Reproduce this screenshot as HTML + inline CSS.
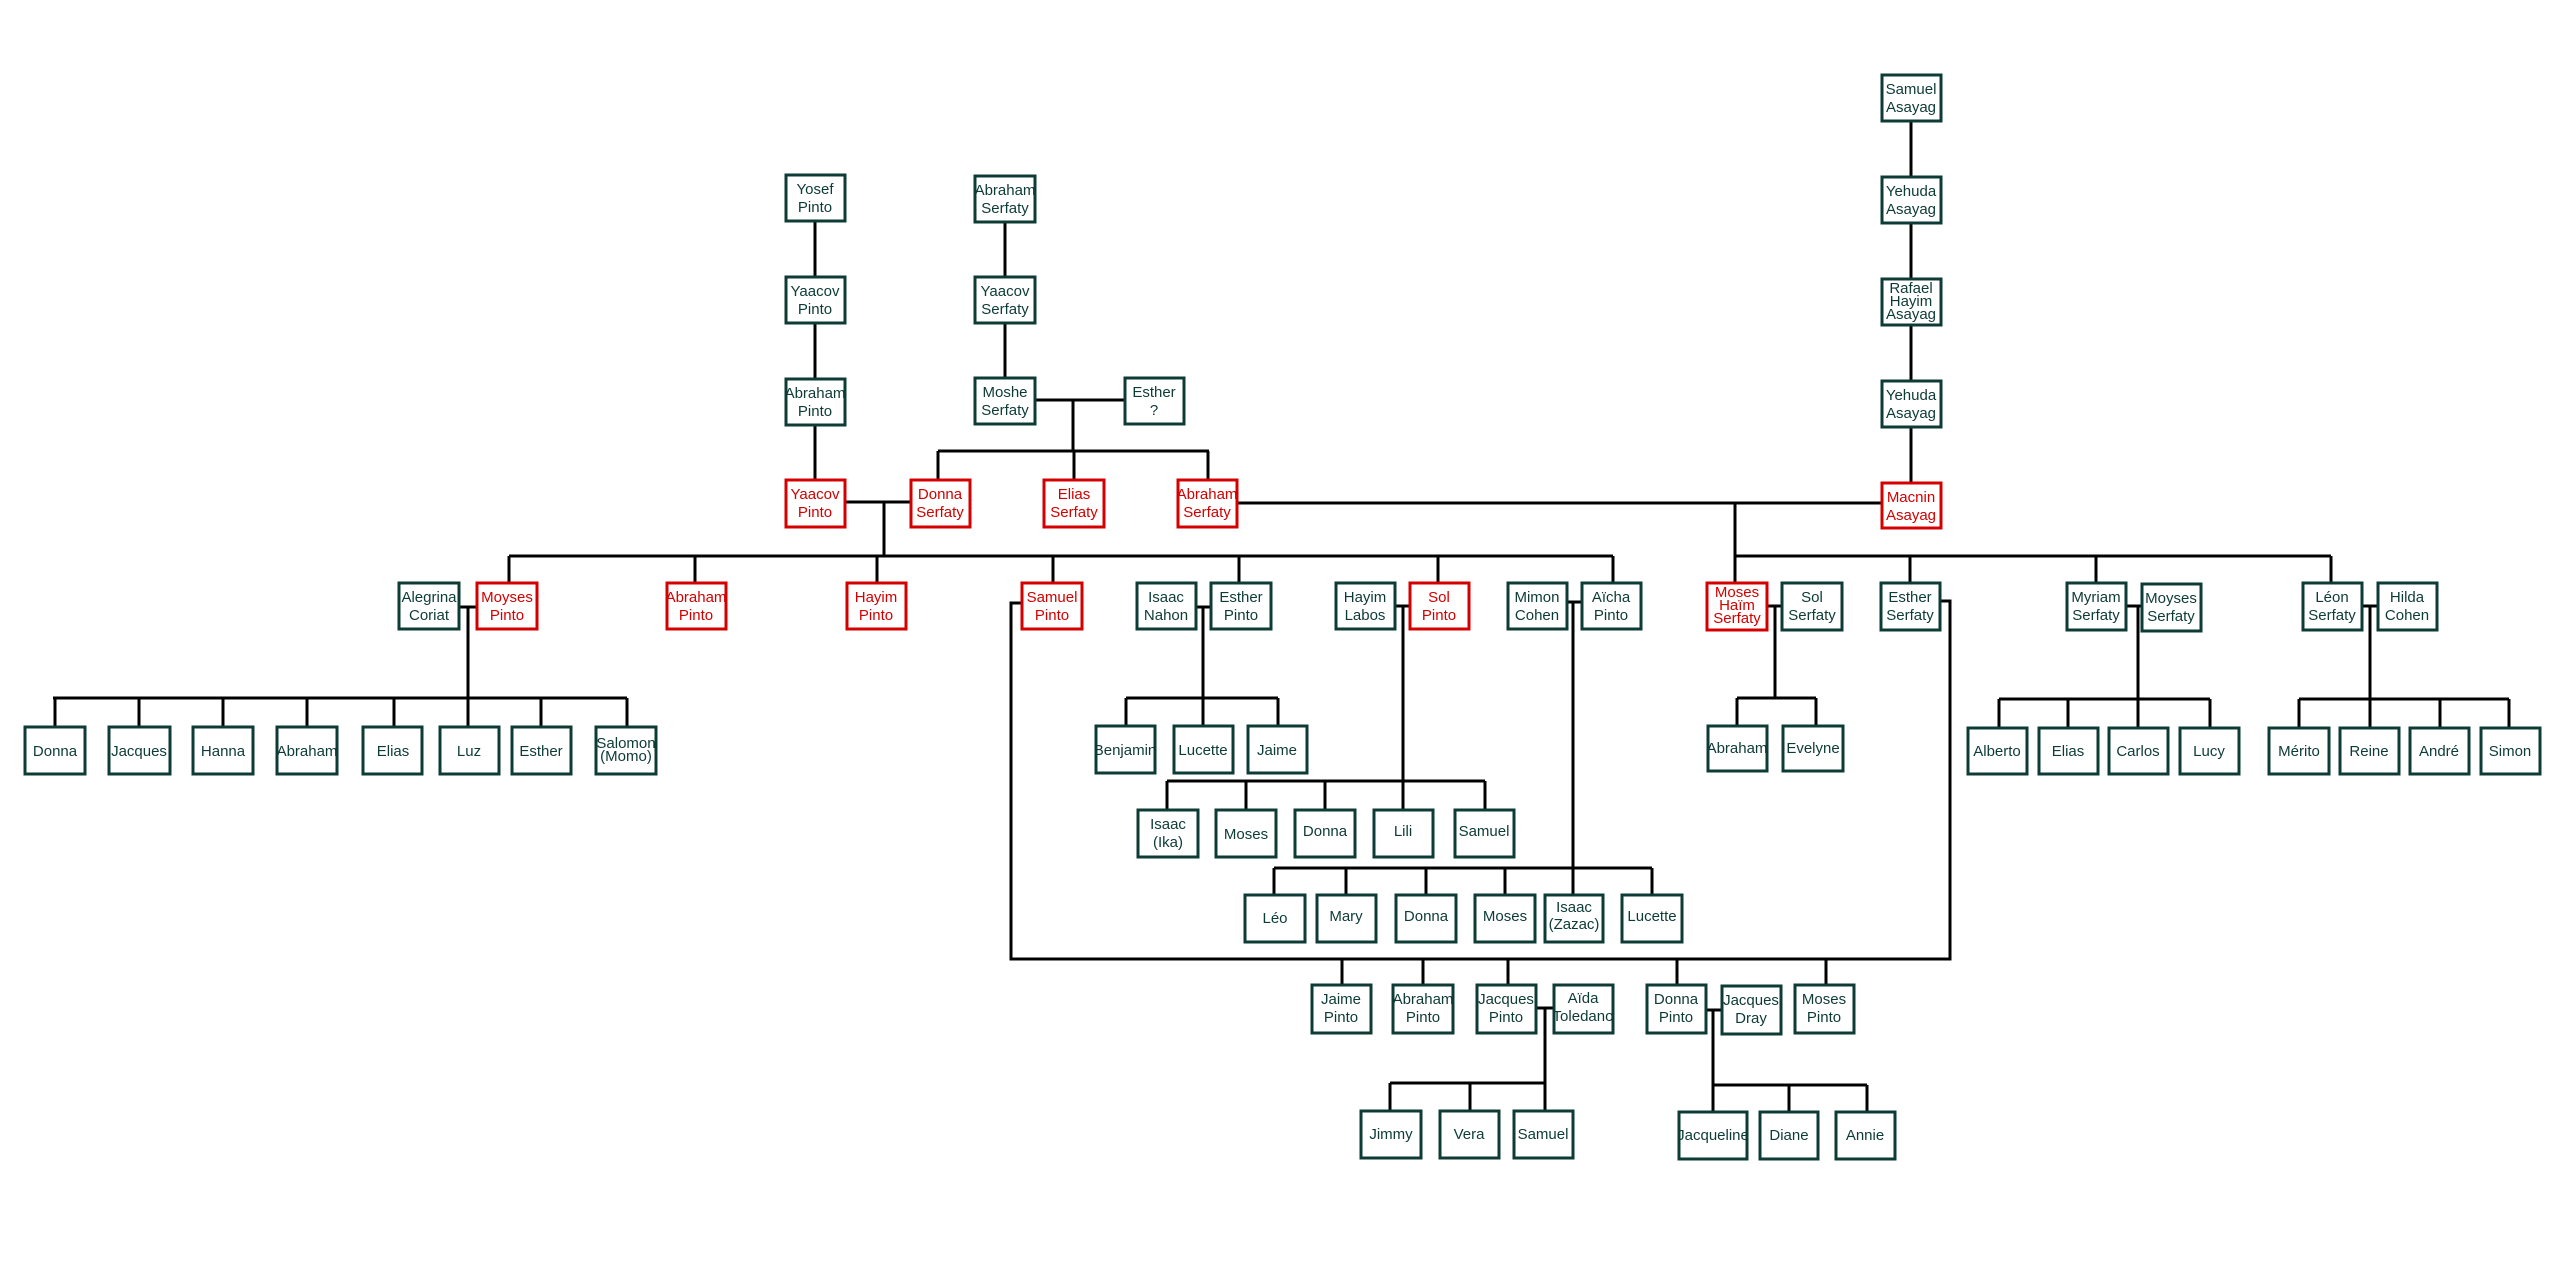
<!DOCTYPE html>
<html><head><meta charset="utf-8"><style>
html,body{margin:0;padding:0;background:#fff;}
svg{display:block;}
rect{fill:#fff;stroke:#0d3b36;stroke-width:3;}
.r rect{stroke:#d40000;}
text{fill:#0d3b36;font-family:"Liberation Sans",sans-serif;font-size:15px;text-anchor:middle;}
.r text{fill:#d40000;}
line,polyline{stroke:#000;stroke-width:3;fill:none;}
</style></head><body>
<svg width="2560" height="1280" viewBox="0 0 2560 1280" xmlns="http://www.w3.org/2000/svg">
<!-- connectors -->
<line x1="815" y1="221" x2="815" y2="480"/>
<line x1="1005" y1="222" x2="1005" y2="378"/>
<line x1="1911" y1="121" x2="1911" y2="483"/>
<line x1="1035" y1="400" x2="1125" y2="400"/>
<line x1="1073" y1="400" x2="1073" y2="451"/>
<line x1="938" y1="451" x2="1209" y2="451"/>
<line x1="938" y1="451" x2="938" y2="480"/>
<line x1="1074" y1="451" x2="1074" y2="480"/>
<line x1="1208" y1="451" x2="1208" y2="480"/>
<line x1="845" y1="502" x2="911" y2="502"/>
<line x1="884" y1="502" x2="884" y2="556"/>
<line x1="1237" y1="503" x2="1882" y2="503"/>
<line x1="509" y1="556" x2="1613" y2="556"/>
<line x1="509" y1="556" x2="509" y2="583"/>
<line x1="695" y1="556" x2="695" y2="583"/>
<line x1="877" y1="556" x2="877" y2="583"/>
<line x1="1053" y1="556" x2="1053" y2="583"/>
<line x1="1239" y1="556" x2="1239" y2="583"/>
<line x1="1438" y1="556" x2="1438" y2="583"/>
<line x1="1613" y1="556" x2="1613" y2="583"/>
<line x1="1735" y1="503" x2="1735" y2="583"/>
<line x1="1735" y1="556" x2="2331" y2="556"/>
<line x1="1910" y1="556" x2="1910" y2="583"/>
<line x1="2096" y1="556" x2="2096" y2="583"/>
<line x1="2331" y1="556" x2="2331" y2="583"/>
<!-- Alegrina/Moyses -->
<line x1="459" y1="607" x2="477" y2="607"/>
<line x1="468" y1="607" x2="468" y2="698"/>
<line x1="53" y1="698" x2="627" y2="698"/>
<line x1="55" y1="698" x2="55" y2="727"/>
<line x1="139" y1="698" x2="139" y2="727"/>
<line x1="223" y1="698" x2="223" y2="727"/>
<line x1="307" y1="698" x2="307" y2="727"/>
<line x1="394" y1="698" x2="394" y2="727"/>
<line x1="468" y1="698" x2="468" y2="727"/>
<line x1="541" y1="698" x2="541" y2="727"/>
<line x1="627" y1="698" x2="627" y2="727"/>
<!-- Isaac/Esther -->
<line x1="1196" y1="607" x2="1211" y2="607"/>
<line x1="1203" y1="607" x2="1203" y2="726"/>
<line x1="1126" y1="698" x2="1278" y2="698"/>
<line x1="1126" y1="698" x2="1126" y2="726"/>
<line x1="1278" y1="698" x2="1278" y2="726"/>
<!-- Hayim/Sol -->
<line x1="1395" y1="606" x2="1410" y2="606"/>
<line x1="1403" y1="606" x2="1403" y2="810"/>
<line x1="1167" y1="781" x2="1485" y2="781"/>
<line x1="1167" y1="781" x2="1167" y2="810"/>
<line x1="1246" y1="781" x2="1246" y2="810"/>
<line x1="1325" y1="781" x2="1325" y2="810"/>
<line x1="1485" y1="781" x2="1485" y2="810"/>
<!-- Mimon/Aicha -->
<line x1="1567" y1="602" x2="1582" y2="602"/>
<line x1="1573" y1="602" x2="1573" y2="895"/>
<line x1="1274" y1="868" x2="1652" y2="868"/>
<line x1="1274" y1="868" x2="1274" y2="895"/>
<line x1="1346" y1="868" x2="1346" y2="895"/>
<line x1="1426" y1="868" x2="1426" y2="895"/>
<line x1="1505" y1="868" x2="1505" y2="895"/>
<line x1="1652" y1="868" x2="1652" y2="895"/>
<!-- Samuel Pinto / Esther Serfaty -->
<polyline points="1022,603 1011,603 1011,959 1950,959 1950,601 1940,601"/>
<line x1="1342" y1="959" x2="1342" y2="985"/>
<line x1="1423" y1="959" x2="1423" y2="985"/>
<line x1="1508" y1="959" x2="1508" y2="985"/>
<line x1="1677" y1="959" x2="1677" y2="985"/>
<line x1="1826" y1="959" x2="1826" y2="985"/>
<line x1="1536" y1="1008" x2="1554" y2="1008"/>
<line x1="1545" y1="1008" x2="1545" y2="1111"/>
<line x1="1390" y1="1083" x2="1545" y2="1083"/>
<line x1="1390" y1="1083" x2="1390" y2="1111"/>
<line x1="1470" y1="1083" x2="1470" y2="1111"/>
<line x1="1706" y1="1010" x2="1722" y2="1010"/>
<line x1="1713" y1="1010" x2="1713" y2="1112"/>
<line x1="1713" y1="1085" x2="1867" y2="1085"/>
<line x1="1789" y1="1085" x2="1789" y2="1112"/>
<line x1="1867" y1="1085" x2="1867" y2="1112"/>
<!-- Moses/Sol Serfaty -->
<line x1="1767" y1="606" x2="1782" y2="606"/>
<line x1="1775" y1="606" x2="1775" y2="698"/>
<line x1="1737" y1="698" x2="1816" y2="698"/>
<line x1="1737" y1="698" x2="1737" y2="726"/>
<line x1="1816" y1="698" x2="1816" y2="726"/>
<!-- Myriam/Moyses -->
<line x1="2126" y1="606" x2="2142" y2="606"/>
<line x1="2138" y1="606" x2="2138" y2="728"/>
<line x1="1999" y1="699" x2="2210" y2="699"/>
<line x1="1999" y1="699" x2="1999" y2="728"/>
<line x1="2068" y1="699" x2="2068" y2="728"/>
<line x1="2210" y1="699" x2="2210" y2="728"/>
<!-- Leon/Hilda -->
<line x1="2362" y1="606" x2="2378" y2="606"/>
<line x1="2370" y1="606" x2="2370" y2="728"/>
<line x1="2299" y1="699" x2="2509" y2="699"/>
<line x1="2299" y1="699" x2="2299" y2="728"/>
<line x1="2440" y1="699" x2="2440" y2="728"/>
<line x1="2509" y1="699" x2="2509" y2="728"/>

<!-- boxes: Pinto ancestors -->
<g><rect x="786" y="175" width="59" height="46"/><text x="815" y="194">Yosef<tspan x="815" dy="18">Pinto</tspan></text></g>
<g><rect x="786" y="277" width="59" height="46"/><text x="815" y="296">Yaacov<tspan x="815" dy="18">Pinto</tspan></text></g>
<g><rect x="786" y="379" width="59" height="46"/><text x="815" y="398">Abraham<tspan x="815" dy="18">Pinto</tspan></text></g>
<g class="r"><rect x="786" y="480" width="59" height="47"/><text x="815" y="499">Yaacov<tspan x="815" dy="18">Pinto</tspan></text></g>
<!-- Serfaty -->
<g><rect x="975" y="176" width="60" height="46"/><text x="1005" y="195">Abraham<tspan x="1005" dy="18">Serfaty</tspan></text></g>
<g><rect x="975" y="277" width="60" height="46"/><text x="1005" y="296">Yaacov<tspan x="1005" dy="18">Serfaty</tspan></text></g>
<g><rect x="975" y="378" width="60" height="46"/><text x="1005" y="397">Moshe<tspan x="1005" dy="18">Serfaty</tspan></text></g>
<g><rect x="1125" y="378" width="59" height="46"/><text x="1154" y="397">Esther<tspan x="1154" dy="18">?</tspan></text></g>
<g class="r"><rect x="911" y="480" width="59" height="47"/><text x="940" y="499">Donna<tspan x="940" dy="18">Serfaty</tspan></text></g>
<g class="r"><rect x="1044" y="480" width="60" height="47"/><text x="1074" y="499">Elias<tspan x="1074" dy="18">Serfaty</tspan></text></g>
<g class="r"><rect x="1178" y="480" width="59" height="47"/><text x="1207" y="499">Abraham<tspan x="1207" dy="18">Serfaty</tspan></text></g>
<!-- Asayag -->
<g><rect x="1882" y="75" width="59" height="46"/><text x="1911" y="94">Samuel<tspan x="1911" dy="18">Asayag</tspan></text></g>
<g><rect x="1882" y="177" width="59" height="46"/><text x="1911" y="196">Yehuda<tspan x="1911" dy="18">Asayag</tspan></text></g>
<g><rect x="1882" y="279" width="59" height="46"/><text x="1911" y="293">Rafael<tspan x="1911" dy="13">Hayim</tspan><tspan x="1911" dy="13">Asayag</tspan></text></g>
<g><rect x="1882" y="381" width="59" height="46"/><text x="1911" y="400">Yehuda<tspan x="1911" dy="18">Asayag</tspan></text></g>
<g class="r"><rect x="1882" y="483" width="59" height="45"/><text x="1911" y="502">Macnin<tspan x="1911" dy="18">Asayag</tspan></text></g>
<!-- gen2 -->
<g><rect x="399" y="583" width="60" height="46"/><text x="429" y="602">Alegrina<tspan x="429" dy="18">Coriat</tspan></text></g>
<g class="r"><rect x="477" y="583" width="60" height="46"/><text x="507" y="602">Moyses<tspan x="507" dy="18">Pinto</tspan></text></g>
<g class="r"><rect x="667" y="583" width="59" height="46"/><text x="696" y="602">Abraham<tspan x="696" dy="18">Pinto</tspan></text></g>
<g class="r"><rect x="847" y="583" width="59" height="46"/><text x="876" y="602">Hayim<tspan x="876" dy="18">Pinto</tspan></text></g>
<g class="r"><rect x="1022" y="583" width="60" height="46"/><text x="1052" y="602">Samuel<tspan x="1052" dy="18">Pinto</tspan></text></g>
<g><rect x="1137" y="583" width="59" height="46"/><text x="1166" y="602">Isaac<tspan x="1166" dy="18">Nahon</tspan></text></g>
<g><rect x="1211" y="583" width="60" height="46"/><text x="1241" y="602">Esther<tspan x="1241" dy="18">Pinto</tspan></text></g>
<g><rect x="1336" y="583" width="59" height="46"/><text x="1365" y="602">Hayim<tspan x="1365" dy="18">Labos</tspan></text></g>
<g class="r"><rect x="1410" y="583" width="59" height="46"/><text x="1439" y="602">Sol<tspan x="1439" dy="18">Pinto</tspan></text></g>
<g><rect x="1508" y="583" width="59" height="46"/><text x="1537" y="602">Mimon<tspan x="1537" dy="18">Cohen</tspan></text></g>
<g><rect x="1582" y="583" width="59" height="46"/><text x="1611" y="602">Aïcha<tspan x="1611" dy="18">Pinto</tspan></text></g>
<g class="r"><rect x="1707" y="583" width="60" height="47"/><text x="1737" y="597">Moses<tspan x="1737" dy="13">Haïm</tspan><tspan x="1737" dy="13">Serfaty</tspan></text></g>
<g><rect x="1782" y="583" width="60" height="47"/><text x="1812" y="602">Sol<tspan x="1812" dy="18">Serfaty</tspan></text></g>
<g><rect x="1881" y="583" width="59" height="47"/><text x="1910" y="602">Esther<tspan x="1910" dy="18">Serfaty</tspan></text></g>
<g><rect x="2067" y="583" width="59" height="47"/><text x="2096" y="602">Myriam<tspan x="2096" dy="18">Serfaty</tspan></text></g>
<g><rect x="2142" y="584" width="59" height="47"/><text x="2171" y="603">Moyses<tspan x="2171" dy="18">Serfaty</tspan></text></g>
<g><rect x="2303" y="583" width="59" height="47"/><text x="2332" y="602">Léon<tspan x="2332" dy="18">Serfaty</tspan></text></g>
<g><rect x="2378" y="583" width="59" height="47"/><text x="2407" y="602">Hilda<tspan x="2407" dy="18">Cohen</tspan></text></g>
<!-- Moyses kids -->
<g><rect x="25" y="727" width="60" height="47"/><text x="55" y="756">Donna</text></g>
<g><rect x="109" y="727" width="61" height="47"/><text x="139" y="756">Jacques</text></g>
<g><rect x="193" y="727" width="60" height="47"/><text x="223" y="756">Hanna</text></g>
<g><rect x="277" y="727" width="60" height="47"/><text x="307" y="756">Abraham</text></g>
<g><rect x="363" y="727" width="59" height="47"/><text x="393" y="756">Elias</text></g>
<g><rect x="440" y="727" width="59" height="47"/><text x="469" y="756">Luz</text></g>
<g><rect x="512" y="727" width="59" height="47"/><text x="541" y="756">Esther</text></g>
<g><rect x="596" y="727" width="60" height="47"/><text x="626" y="748">Salomon<tspan x="626" dy="13">(Momo)</tspan></text></g>
<!-- Esther Pinto kids -->
<g><rect x="1096" y="726" width="59" height="47"/><text x="1125" y="755">Benjamin</text></g>
<g><rect x="1174" y="726" width="59" height="47"/><text x="1203" y="755">Lucette</text></g>
<g><rect x="1248" y="726" width="59" height="47"/><text x="1277" y="755">Jaime</text></g>
<!-- Sol Pinto kids -->
<g><rect x="1138" y="810" width="60" height="47"/><text x="1168" y="829">Isaac<tspan x="1168" dy="18">(Ika)</tspan></text></g>
<g><rect x="1216" y="810" width="60" height="47"/><text x="1246" y="839">Moses</text></g>
<g><rect x="1295" y="810" width="60" height="47"/><text x="1325" y="836">Donna</text></g>
<g><rect x="1374" y="810" width="59" height="47"/><text x="1403" y="836">Lili</text></g>
<g><rect x="1455" y="810" width="59" height="47"/><text x="1484" y="836">Samuel</text></g>
<!-- Aicha kids -->
<g><rect x="1245" y="895" width="60" height="47"/><text x="1275" y="923">Léo</text></g>
<g><rect x="1317" y="895" width="59" height="47"/><text x="1346" y="921">Mary</text></g>
<g><rect x="1396" y="895" width="60" height="47"/><text x="1426" y="921">Donna</text></g>
<g><rect x="1475" y="895" width="60" height="47"/><text x="1505" y="921">Moses</text></g>
<g><rect x="1545" y="895" width="58" height="47"/><text x="1574" y="912">Isaac<tspan x="1574" dy="17">(Zazac)</tspan></text></g>
<g><rect x="1622" y="895" width="60" height="47"/><text x="1652" y="921">Lucette</text></g>
<!-- Samuel Pinto kids -->
<g><rect x="1312" y="985" width="59" height="48"/><text x="1341" y="1004">Jaime<tspan x="1341" dy="18">Pinto</tspan></text></g>
<g><rect x="1393" y="985" width="60" height="48"/><text x="1423" y="1004">Abraham<tspan x="1423" dy="18">Pinto</tspan></text></g>
<g><rect x="1477" y="985" width="59" height="48"/><text x="1506" y="1004">Jacques<tspan x="1506" dy="18">Pinto</tspan></text></g>
<g><rect x="1554" y="985" width="59" height="48"/><text x="1583" y="1003">Aïda<tspan x="1583" dy="18">Toledano</tspan></text></g>
<g><rect x="1647" y="985" width="59" height="48"/><text x="1676" y="1004">Donna<tspan x="1676" dy="18">Pinto</tspan></text></g>
<g><rect x="1722" y="986" width="59" height="48"/><text x="1751" y="1005">Jacques<tspan x="1751" dy="18">Dray</tspan></text></g>
<g><rect x="1795" y="985" width="59" height="48"/><text x="1824" y="1004">Moses<tspan x="1824" dy="18">Pinto</tspan></text></g>
<!-- grandkids -->
<g><rect x="1361" y="1111" width="60" height="47"/><text x="1391" y="1139">Jimmy</text></g>
<g><rect x="1440" y="1111" width="59" height="47"/><text x="1469" y="1139">Vera</text></g>
<g><rect x="1514" y="1111" width="59" height="47"/><text x="1543" y="1139">Samuel</text></g>
<g><rect x="1679" y="1112" width="68" height="47"/><text x="1713" y="1140">Jacqueline</text></g>
<g><rect x="1760" y="1112" width="58" height="47"/><text x="1789" y="1140">Diane</text></g>
<g><rect x="1836" y="1112" width="59" height="47"/><text x="1865" y="1140">Annie</text></g>
<!-- Serfaty kids -->
<g><rect x="1708" y="726" width="59" height="45"/><text x="1737" y="753">Abraham</text></g>
<g><rect x="1783" y="726" width="60" height="45"/><text x="1813" y="753">Evelyne</text></g>
<g><rect x="1968" y="728" width="59" height="46"/><text x="1997" y="756">Alberto</text></g>
<g><rect x="2039" y="728" width="59" height="46"/><text x="2068" y="756">Elias</text></g>
<g><rect x="2109" y="728" width="59" height="46"/><text x="2138" y="756">Carlos</text></g>
<g><rect x="2180" y="728" width="59" height="46"/><text x="2209" y="756">Lucy</text></g>
<g><rect x="2269" y="728" width="60" height="46"/><text x="2299" y="756">Mérito</text></g>
<g><rect x="2340" y="728" width="59" height="46"/><text x="2369" y="756">Reine</text></g>
<g><rect x="2410" y="728" width="59" height="46"/><text x="2439" y="756">André</text></g>
<g><rect x="2481" y="728" width="59" height="46"/><text x="2510" y="756">Simon</text></g>
</svg>
</body></html>
